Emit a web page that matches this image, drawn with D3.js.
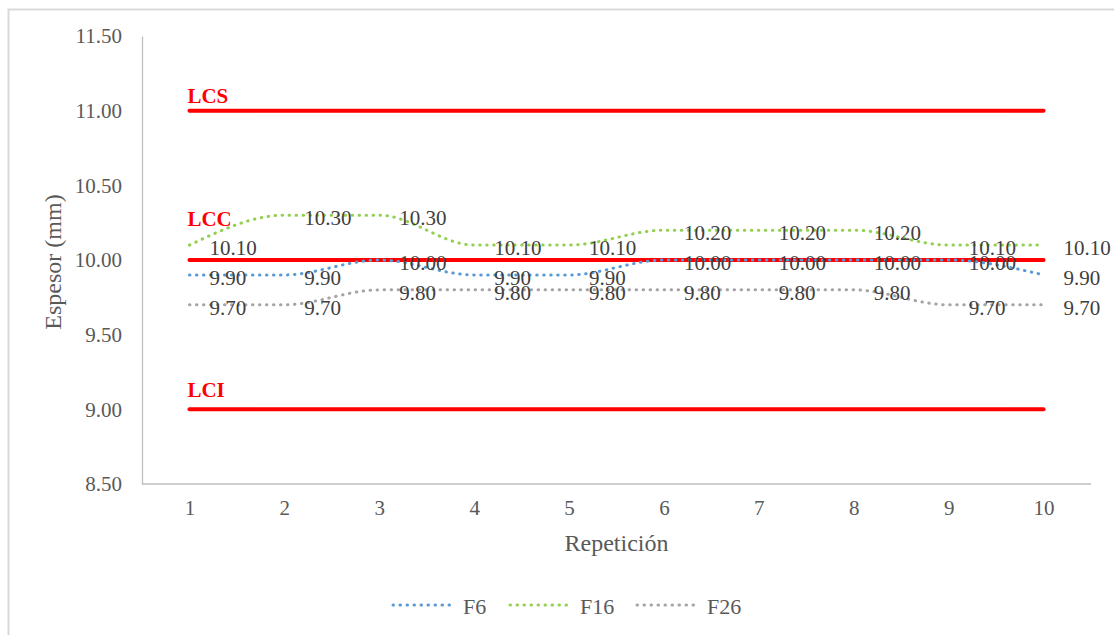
<!DOCTYPE html>
<html>
<head>
<meta charset="utf-8">
<script src="https://cdn.jsdelivr.net/npm/d3@7"></script>
<style>
  html, body { margin: 0; padding: 0; background: #ffffff; }
  svg { display: block; }
</style>
</head>
<body>
<svg id="chart" width="1114" height="635"></svg>
<script>
// Repetitions on the horizontal axis
const repeticiones = [1, 2, 3, 4, 5, 6, 7, 8, 9, 10];

// Measured thickness (mm) for each sample
const f6  = [9.90, 9.90, 10.00, 9.90, 9.90, 10.00, 10.00, 10.00, 10.00, 9.90];
const f16 = [10.10, 10.30, 10.30, 10.10, 10.10, 10.20, 10.20, 10.20, 10.10, 10.10];
const f26 = [9.70, 9.70, 9.80, 9.80, 9.80, 9.80, 9.80, 9.80, 9.70, 9.70];

// Control limits: upper, central, lower
const limitNames  = ["LCS", "LCC", "LCI"];
const limitValues = [11.00, 10.00, 9.00];

// Y axis ticks
const yTicks = [8.50, 9.00, 9.50, 10.00, 10.50, 11.00, 11.50];

const seriesNames  = ["F6", "F16", "F26"];
const seriesData   = [f6, f16, f26];
const seriesColors = ["#5B9BD5", "#92D050", "#A5A5A5"];

const svg = d3.select("#chart");
const serif = "'Liberation Serif', 'Times New Roman', serif";

// Outer chart frame
svg.append("rect")
  .attr("x", 8.5).attr("y", 9.5)
  .attr("width", 1130).attr("height", 650)
  .attr("fill", "#ffffff")
  .attr("stroke", "#d9d9d9")
  .attr("stroke-width", 2);

const plot = { left: 142, right: 1091, top: 36, bottom: 484 };

const x = d3.scalePoint()
  .domain(repeticiones)
  .range([plot.left, plot.right])
  .padding(0.5);

const y = d3.scaleLinear()
  .domain([8.5, 11.5])
  .range([plot.bottom, plot.top]);

// Y axis
const yAxis = svg.append("g")
  .attr("transform", `translate(${plot.left},0)`)
  .call(d3.axisLeft(y).tickValues(yTicks).tickFormat(d3.format(".2f")).tickSize(0).tickPadding(20));
yAxis.select(".domain").attr("stroke", "#bfbfbf").attr("stroke-width", 1.3);
yAxis.selectAll("text")
  .attr("font-family", serif).attr("font-size", 21)
  .attr("fill", "#595959");

// X axis
const xAxis = svg.append("g")
  .attr("transform", `translate(0,${plot.bottom})`)
  .call(d3.axisBottom(x).tickSize(0).tickPadding(16));
xAxis.select(".domain")
  .attr("d", `M${plot.left},0H${plot.right}`)
  .attr("stroke", "#bfbfbf").attr("stroke-width", 1.3);
xAxis.selectAll("text")
  .attr("font-family", serif).attr("font-size", 21)
  .attr("fill", "#595959");

// Axis titles
svg.append("text")
  .attr("transform", `translate(61,262) rotate(-90)`)
  .attr("text-anchor", "middle")
  .attr("font-family", serif).attr("font-size", 24)
  .attr("fill", "#595959")
  .text("Espesor (mm)");

svg.append("text")
  .attr("x", (plot.left + plot.right) / 2)
  .attr("y", 551)
  .attr("text-anchor", "middle")
  .attr("font-family", serif).attr("font-size", 24)
  .attr("fill", "#595959")
  .text("Repetición");

// Control limit lines
const limitLine = d3.line().x(d => x(d[0])).y(d => y(d[1]));
limitValues.forEach((v, i) => {
  svg.append("path")
    .datum(repeticiones.map(r => [r, v]))
    .attr("d", limitLine)
    .attr("fill", "none")
    .attr("stroke", "#FF0000")
    .attr("stroke-width", 4)
    .attr("stroke-linecap", "round");
});

// Limit labels (LCC lifted clear of the data labels)
const limitLabelLift = [8, 34, 12];
limitNames.forEach((name, i) => {
  svg.append("text")
    .attr("x", x(repeticiones[0]) - 2)
    .attr("y", y(limitValues[i]) - limitLabelLift[i])
    .attr("font-family", serif).attr("font-size", 21)
    .attr("font-weight", "bold")
    .attr("fill", "#FF0000")
    .text(name);
});

// Smoothed dotted series
const smooth = d3.line()
  .x((d, i) => x(repeticiones[i]))
  .y(d => y(d))
  .curve(d3.curveMonotoneX);

seriesData.forEach((vals, s) => {
  svg.append("path")
    .datum(vals)
    .attr("d", smooth)
    .attr("fill", "none")
    .attr("stroke", seriesColors[s])
    .attr("stroke-width", 3)
    .attr("stroke-linecap", "round")
    .attr("stroke-dasharray", "0.5 6.5");
});

// Data labels to the right of each point
seriesData.forEach((vals, s) => {
  svg.append("g").selectAll("text")
    .data(vals)
    .join("text")
    .attr("x", (d, i) => x(repeticiones[i]) + 20)
    .attr("y", d => y(d) + 3)
    .attr("dominant-baseline", "central")
    .attr("font-family", serif).attr("font-size", 21)
    .attr("fill", "#404040")
    .text(d => d.toFixed(2));
});

// Legend
const legendX = [393, 510, 637];
seriesNames.forEach((name, s) => {
  const g = svg.append("g").attr("transform", `translate(${legendX[s]},605)`);
  g.append("line")
    .attr("x1", 0).attr("x2", 59).attr("y1", 0).attr("y2", 0)
    .attr("stroke", seriesColors[s])
    .attr("stroke-width", 3)
    .attr("stroke-linecap", "round")
    .attr("stroke-dasharray", "0.5 6.5");
  g.append("text")
    .attr("x", 70).attr("y", 1)
    .attr("dominant-baseline", "central")
    .attr("font-family", serif).attr("font-size", 22)
    .attr("fill", "#595959")
    .text(name);
});
</script>
</body>
</html>
